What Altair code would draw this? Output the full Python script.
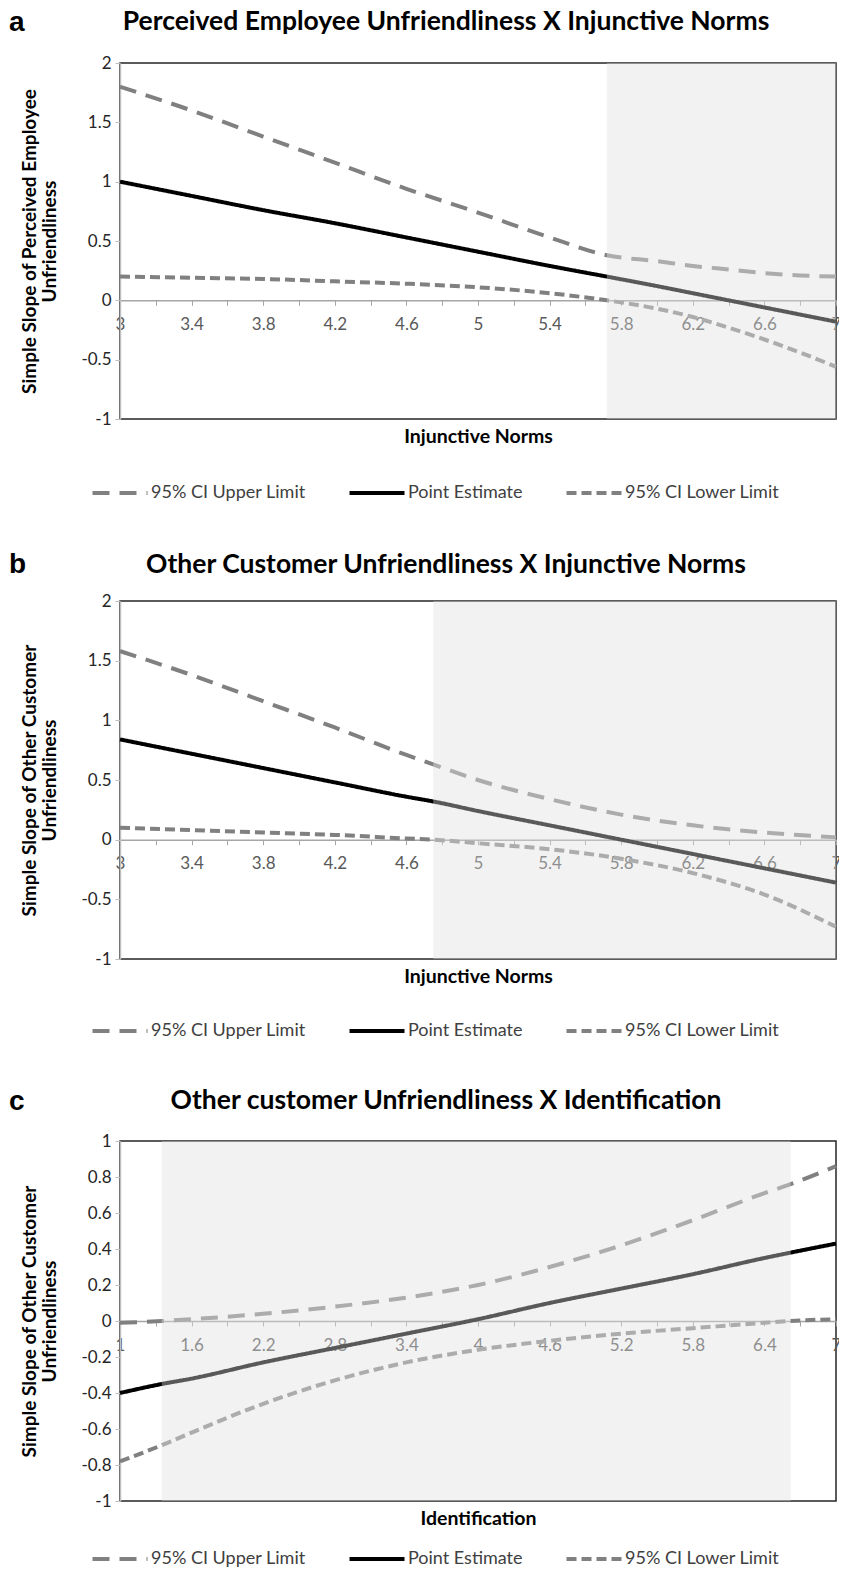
import json
import altair as alt
import pandas as pd

SERIES = ["95% CI Upper Limit", "Point Estimate", "95% CI Lower Limit"]
SERIES_COLORS = ["#808080", "#000000", "#808080"]
SERIES_DASHES = [[17, 10], [1, 0], [10, 5]]

# ---------------- Panel a ----------------
A_LETTER = "a"
A_TITLE = "Perceived Employee Unfriendliness X Injunctive Norms"
A_YTITLE = ["Simple Slope of Perceived Employee", "Unfriendliness"]
A_XTITLE = "Injunctive Norms"
A_X = [3.0, 3.4, 3.8, 4.2, 4.6, 5.0, 5.4, 5.72, 6.0, 6.2, 6.4, 6.6, 6.8, 7.0]
A_UPPER = [1.80, 1.60, 1.38, 1.16, 0.94, 0.74, 0.53, 0.38, 0.33, 0.29, 0.26, 0.23, 0.21, 0.20]
A_POINT = [1.00, 0.88, 0.76, 0.65, 0.53, 0.41, 0.29, 0.20, 0.12, 0.06, 0.00, -0.06, -0.12, -0.18]
A_LOWER = [0.20, 0.19, 0.18, 0.16, 0.14, 0.11, 0.06, 0.00, -0.07, -0.14, -0.23, -0.33, -0.44, -0.56]
A_SHADE = [5.72, 7.0]
A_XDOMAIN = [3, 7]
A_YDOMAIN = [-1, 2]
A_YTICKS = [-1, -0.5, 0, 0.5, 1, 1.5, 2]
A_XTICKS = [3, 3.2, 3.4, 3.6, 3.8, 4, 4.2, 4.4, 4.6, 4.8, 5, 5.2, 5.4, 5.6, 5.8, 6, 6.2, 6.4, 6.6, 6.8, 7]
A_XLABELS = [3, 3.4, 3.8, 4.2, 4.6, 5, 5.4, 5.8, 6.2, 6.6, 7]

# ---------------- Panel b ----------------
B_LETTER = "b"
B_TITLE = "Other Customer Unfriendliness X Injunctive Norms"
B_YTITLE = ["Simple Slope of Other Customer", "Unfriendliness"]
B_XTITLE = "Injunctive Norms"
B_X = [3.0, 3.4, 3.8, 4.2, 4.6, 4.75, 5.0, 5.4, 5.8, 6.2, 6.6, 7.0]
B_UPPER = [1.58, 1.38, 1.16, 0.94, 0.71, 0.63, 0.50, 0.34, 0.21, 0.12, 0.06, 0.02]
B_POINT = [0.84, 0.72, 0.60, 0.48, 0.36, 0.32, 0.24, 0.12, 0.00, -0.12, -0.24, -0.36]
B_LOWER = [0.10, 0.08, 0.06, 0.04, 0.01, 0.00, -0.03, -0.08, -0.16, -0.28, -0.46, -0.73]
B_SHADE = [4.75, 7.0]
B_XDOMAIN = [3, 7]
B_YDOMAIN = [-1, 2]
B_YTICKS = [-1, -0.5, 0, 0.5, 1, 1.5, 2]
B_XTICKS = A_XTICKS
B_XLABELS = A_XLABELS

# ---------------- Panel c ----------------
C_LETTER = "c"
C_TITLE = "Other customer Unfriendliness X Identification"
C_YTITLE = ["Simple Slope of Other Customer", "Unfriendliness"]
C_XTITLE = "Identification"
C_X = [1.0, 1.35, 1.6, 2.2, 2.8, 3.4, 4.0, 4.6, 5.2, 5.8, 6.4, 6.62, 7.0]
C_UPPER = [-0.01, 0.00, 0.01, 0.04, 0.08, 0.13, 0.20, 0.30, 0.42, 0.56, 0.71, 0.76, 0.86]
C_POINT = [-0.40, -0.35, -0.32, -0.23, -0.15, -0.07, 0.01, 0.10, 0.18, 0.26, 0.35, 0.38, 0.43]
C_LOWER = [-0.78, -0.69, -0.62, -0.46, -0.33, -0.23, -0.16, -0.11, -0.07, -0.04, -0.01, 0.00, 0.01]
C_SHADE = [1.35, 6.62]
C_XDOMAIN = [1, 7]
C_YDOMAIN = [-1, 1]
C_YTICKS = [-1, -0.8, -0.6, -0.4, -0.2, 0, 0.2, 0.4, 0.6, 0.8, 1]
C_XTICKS = [1, 1.3, 1.6, 1.9, 2.2, 2.5, 2.8, 3.1, 3.4, 3.7, 4, 4.3, 4.6, 4.9, 5.2, 5.5, 5.8, 6.1, 6.4, 6.7, 7]
C_XLABELS = [1, 1.6, 2.2, 2.8, 3.4, 4, 4.6, 5.2, 5.8, 6.4, 7]

WIDTH = 716
FONT = "Lato"


def panel(letter, title, ytitle, xtitle, xs, up, pt, lo, shade, xdom, ydom,
          yticks, xticks, xlabels, height, legend_y, letter_y, title_y):
    rows = []
    for name, vals in zip(SERIES, [up, pt, lo]):
        for x, v in zip(xs, vals):
            rows.append({"x": x, "y": v, "series": name})
    df = pd.DataFrame(rows)

    zero_px = height * (ydom[1] - 0) / (ydom[1] - ydom[0])
    below_zero = height - zero_px

    xscale = alt.Scale(domain=xdom, nice=False, zero=False)
    yscale = alt.Scale(domain=ydom, nice=False, zero=False)

    x_axis = alt.Axis(
        values=xticks,
        labelExpr="indexof(%s, datum.value) >= 0 ? '' + datum.value : ''" % json.dumps(xlabels),
        offset=-below_zero,
        title=xtitle,
        titleY=below_zero + 17,
        titleBaseline="middle",
        titleFont=FONT, titleFontSize=19.5, titleFontWeight="bold", titleColor="#000000",
        domainColor="#a6a6a6", domainWidth=1.5,
        tickColor="#a6a6a6", tickSize=5, tickWidth=1,
        labelFont=FONT, labelFontSize=17, labelColor="#595959", labelPadding=11,
        labelOverlap=False, labelFlush=False, grid=False,
    )
    y_axis = alt.Axis(
        values=yticks,
        labelExpr="'' + datum.value",
        title=ytitle,
        titleX=-91, titleY=height / 2, titleAngle=270,
        titleAlign="center", titleBaseline="middle", titleLineHeight=20,
        titleFont=FONT, titleFontSize=19, titleFontWeight="bold", titleColor="#000000",
        domainColor="#bfbfbf", domainWidth=1.5,
        tickColor="#bfbfbf", tickSize=5,
        labelFont=FONT, labelFontSize=17, labelColor="#262626", labelPadding=4,
        labelFlush=False, grid=False,
    )

    shade_df = pd.DataFrame({"x0": [shade[0]], "x1": [shade[1]],
                             "y0": [ydom[0]], "y1": [ydom[1]]})

    bg = alt.Chart(shade_df).mark_rect(color="#000000", opacity=0.078).encode(
        x=alt.X("x0:Q", scale=xscale, axis=x_axis),
        x2="x1:Q",
        y=alt.Y("y0:Q", scale=yscale, axis=y_axis),
        y2="y1:Q",
    )

    legend = alt.Legend(
        title=None, orient="none", legendX=-9, legendY=legend_y,
        direction="horizontal", columns=3,
        symbolType="M-5,0H5", symbolSize=121, symbolStrokeWidth=4,
        labelFont=FONT, labelFontSize=18, labelColor="#404040",
        labelOffset=22, columnPadding=35, labelLimit=0, padding=0,
    )
    lines = alt.Chart(df).mark_line(strokeWidth=4, interpolate="monotone").encode(
        x=alt.X("x:Q", scale=xscale, axis=x_axis),
        y=alt.Y("y:Q", scale=yscale, axis=y_axis),
        color=alt.Color("series:N", scale=alt.Scale(domain=SERIES, range=SERIES_COLORS),
                        legend=legend),
        strokeDash=alt.StrokeDash("series:N", scale=alt.Scale(domain=SERIES, range=SERIES_DASHES),
                                  legend=legend),
    )

    overlay = alt.Chart(shade_df).mark_rect(color="#ffffff", opacity=0.35).encode(
        x=alt.X("x0:Q", scale=xscale, axis=x_axis),
        x2="x1:Q",
        y=alt.Y("y0:Q", scale=yscale, axis=y_axis),
        y2="y1:Q",
    )

    letter_mark = alt.Chart(pd.DataFrame({"t": [letter]})).mark_text(
        font="Liberation Sans", fontSize=28, fontWeight="bold", align="left",
        baseline="top", color="#000000",
    ).encode(text="t:N", x=alt.value(-111), y=alt.value(letter_y))

    title_mark = alt.Chart(pd.DataFrame({"t": [title]})).mark_text(
        font=FONT, fontSize=26.5, fontWeight="bold", align="center",
        baseline="top", color="#000000",
    ).encode(text="t:N", x=alt.value(326), y=alt.value(title_y))

    return alt.layer(bg, lines, overlay, letter_mark, title_mark).properties(
        width=WIDTH, height=height
    )


pa = panel(A_LETTER, A_TITLE, A_YTITLE, A_XTITLE, A_X, A_UPPER, A_POINT, A_LOWER,
           A_SHADE, A_XDOMAIN, A_YDOMAIN, A_YTICKS, A_XTICKS, A_XLABELS, 356, 356 + 65,
           -54, -54)
pb = panel(B_LETTER, B_TITLE, B_YTITLE, B_XTITLE, B_X, B_UPPER, B_POINT, B_LOWER,
           B_SHADE, B_XDOMAIN, B_YDOMAIN, B_YTICKS, B_XTICKS, B_XLABELS, 358, 358 + 63,
           -50, -49)
pc = panel(C_LETTER, C_TITLE, C_YTITLE, C_XTITLE, C_X, C_UPPER, C_POINT, C_LOWER,
           C_SHADE, C_XDOMAIN, C_YDOMAIN, C_YTICKS, C_XTICKS, C_XLABELS, 360, 360 + 49,
           -53, -53)

chart = alt.vconcat(pa, pb, pc, spacing=182, bounds="flush").resolve_scale(
    color="independent", strokeDash="independent"
).configure_view(
    stroke="#262626", strokeWidth=1.5
).properties(
    padding={"left": 0, "top": 0, "right": -6, "bottom": 0},
    background="#ffffff",
)

chart.save("out.html", embed_options={"renderer": "svg", "actions": False})
